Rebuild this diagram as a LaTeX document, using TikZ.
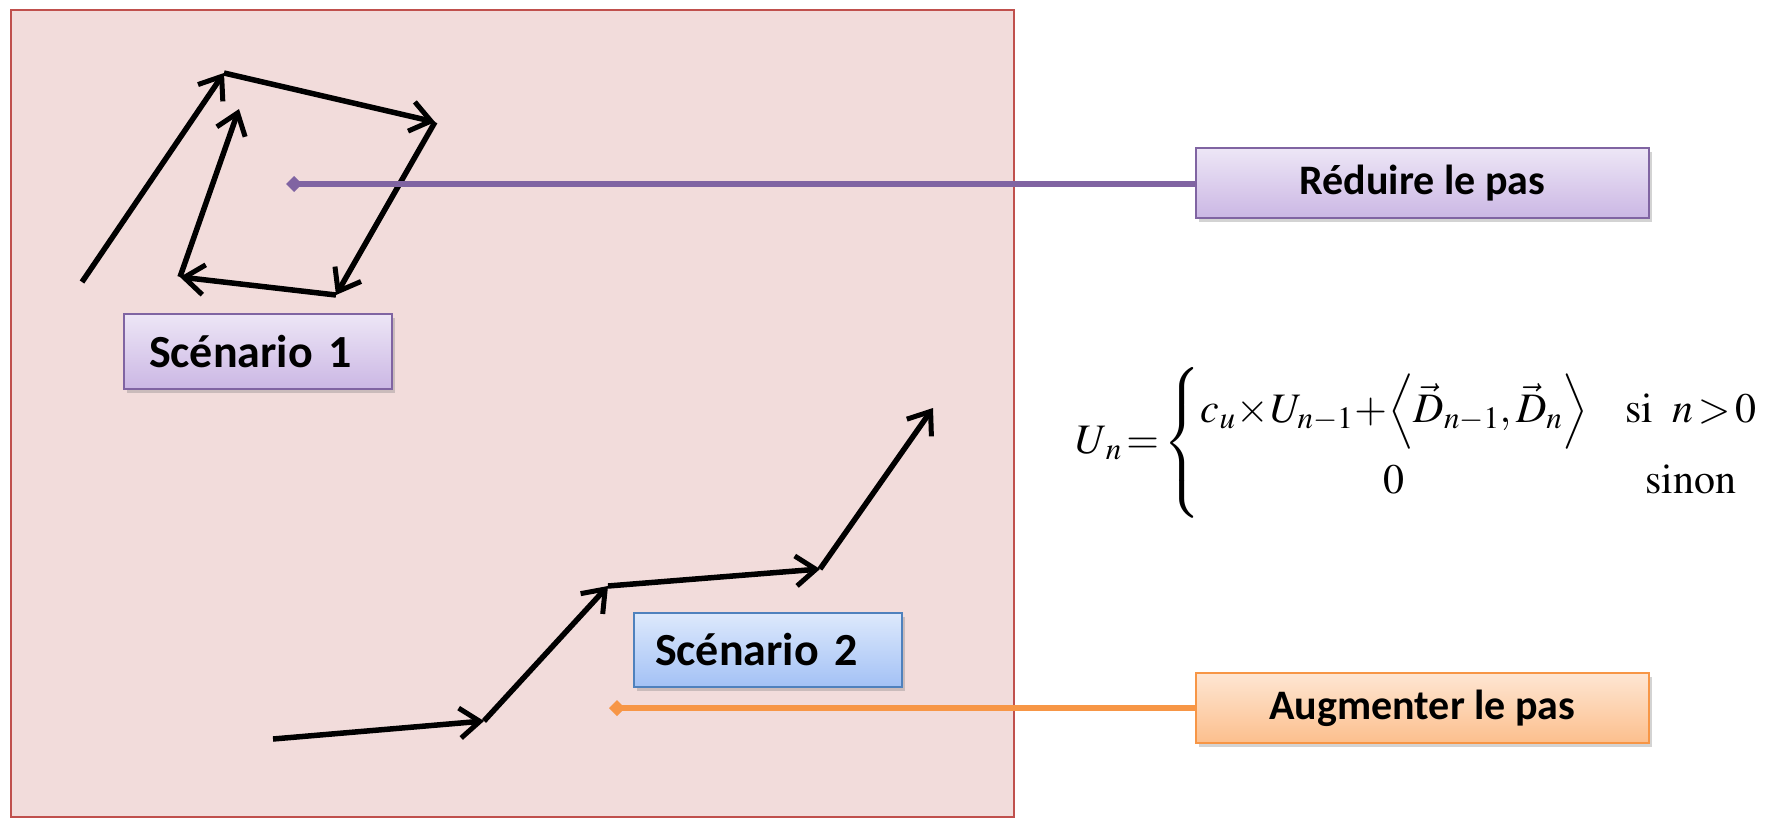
\documentclass[tikz,border=0pt]{standalone}
\usepackage{mathptmx}
\usepackage{fontspec}
\setmainfont{Carlito}
\usetikzlibrary{arrows.meta,shadows}
\definecolor{bgfill}{HTML}{F2DCDB}
\definecolor{bgdraw}{HTML}{C0504D}
\definecolor{purp}{HTML}{8064A2}
\definecolor{purptop}{HTML}{EDE6F6}
\definecolor{purpbot}{HTML}{CBB7E4}
\definecolor{blu}{HTML}{4F81BD}
\definecolor{blutop}{HTML}{DDE9FC}
\definecolor{blubot}{HTML}{A3C1F5}
\definecolor{ora}{HTML}{F79646}
\definecolor{oratop}{HTML}{FEE6D3}
\definecolor{orabot}{HTML}{FCBF8D}
\tikzset{
  vec/.style={line width=5.5pt, -{Straight Barb[length=20pt,width=30pt,line width=5pt]}},
  boxbase/.style={rectangle, line width=2pt, font=\bfseries, text=black,
    drop shadow={shadow xshift=3pt, shadow yshift=-4pt, opacity=0.35}},
  purpbox/.style={boxbase, draw=purp, top color=purptop, bottom color=purpbot},
  blubox/.style={boxbase, draw=blu, top color=blutop, bottom color=blubot},
  orabox/.style={boxbase, draw=ora, top color=oratop, bottom color=orabot},
  link/.style={line width=6pt, {Diamond[length=16pt,width=16pt]}-},
}
\begin{document}
\begin{tikzpicture}[x=1pt,y=-1pt]
\useasboundingbox (0,0) rectangle (1766,819);
\draw[bgdraw, fill=bgfill, line width=1.5pt] (11,10) rectangle (1014,817);

% scenario 1 vertices
\coordinate (a0) at (82,282);
\coordinate (a1) at (224,73);
\coordinate (a2) at (435,122);
\coordinate (a3) at (336,295);
\coordinate (a4) at (180,277);
\coordinate (a5) at (239,109);
\draw[vec] (a0) -- (a1);
\draw[vec] (a1) -- (a2);
\draw[vec] (a2) -- (a3);
\draw[vec] (a3) -- (a4);
\draw[vec] (a4) -- (a5);

% scenario 2 vertices
\coordinate (b0) at (273,739);
\coordinate (b1) at (484,721);
\coordinate (b2) at (608,586);
\coordinate (b3) at (820,569);
\coordinate (b4) at (933,408);
\draw[vec] (b0) -- (b1);
\draw[vec] (b1) -- (b2);
\draw[vec] (b2) -- (b3);
\draw[vec] (b3) -- (b4);

% boxes
\node[purpbox, minimum width=268pt, minimum height=75pt, text width=218pt, inner xsep=25pt, align=left,
  font=\bfseries\fontsize{46}{54}\selectfont] (s1) at (258,351.5) {Scénario 1};
\node[blubox, minimum width=268pt, minimum height=74pt, text width=226pt, inner xsep=21pt, align=left,
  font=\bfseries\fontsize{46}{54}\selectfont] (s2) at (768,650) {Scénario 2};
\node[purpbox, minimum width=453pt, minimum height=70pt, inner sep=0pt,
  font=\bfseries\fontsize{42}{50}\selectfont] (red) at (1422.5,183) {Réduire le pas};
\node[orabox, minimum width=453pt, minimum height=70pt, inner sep=0pt,
  font=\bfseries\fontsize{42}{50}\selectfont] (aug) at (1422.5,708) {Augmenter le pas};

% connectors
\coordinate (d1) at (286,184);
\coordinate (d2) at (609,708);
\draw[link, purp] (d1) -- (d1 -| red.west);
\draw[link, ora] (d2) -- (d2 -| aug.west);

% formula
\node[anchor=west, inner sep=0pt, font=\fontsize{46}{55}\selectfont] (eq) at (1075,443) {\resizebox{682pt}{!}{%
$\renewcommand{\arraystretch}{1.25}U_{\,n}\!=\!\left\{\begin{array}{@{}c@{\hspace{0.9em}}c@{}}
  c_{u}\!\times\! U_{n-1}\!+\!\left\langle \vec{D}_{n-1},\vec{D}_{n}\right\rangle & \mathrm{si}\;\; n\!>\!0\\
  0 & \mathrm{sinon}
\end{array}\right.$}};
\end{tikzpicture}
\end{document}
